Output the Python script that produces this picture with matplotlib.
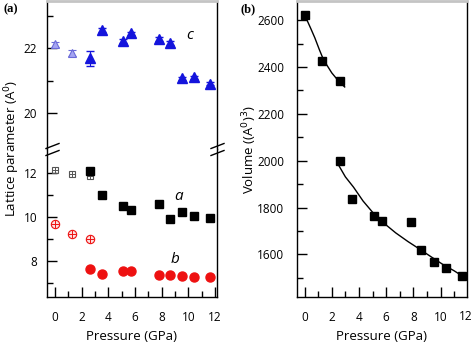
import matplotlib
matplotlib.use("Agg")
import matplotlib.pyplot as plt
from matplotlib.lines import Line2D
from matplotlib.ticker import MultipleLocator, FixedLocator

plt.rcParams['font.family'] = ['Open Sans', 'DejaVu Sans']
plt.rcParams['axes.linewidth'] = 1.0

# pressures (GPa)
p_low = [0.0, 1.3, 2.6]
p_high = [2.6, 3.5, 5.1, 5.7, 7.8, 8.6, 9.5, 10.4, 11.6]

# lattice parameter c, low pressure phase (open) and high pressure phase (filled)
c_low = [22.12, 21.85]
c_low_err = [0.08, 0.08]
c_high = [21.68, 22.55, 22.22, 22.45, 22.28, 22.15, 21.07, 21.1, 20.9]
c_high_err = [0.22, 0.06, 0.06, 0.06, 0.06, 0.06, 0.05, 0.05, 0.05]

# lattice parameter a
a_low = [12.13, 11.98, 11.88]
a_high = [12.08, 11.0, 10.52, 10.32, 10.6, 9.93, 10.22, 10.07, 9.98]

# lattice parameter b
b_low = [9.68, 9.23, 9.0]
b_high = [7.62, 7.42, 7.54, 7.54, 7.37, 7.38, 7.3, 7.27, 7.25]

# unit cell volume (A^3)
p_vol = [0.0, 1.3, 2.6, 2.6, 3.5, 5.1, 5.7, 7.8, 8.6, 9.5, 10.4, 11.6]
vol = [2621, 2426, 2340, 2000, 1837, 1763, 1742, 1737, 1618, 1569, 1541, 1508]

# equation of state fits
fit1_p = [0.1, 0.45, 0.75, 1.1, 1.4, 2.0, 2.5, 2.95]
fit1_v = [2610, 2565, 2525, 2472, 2430, 2375, 2340, 2315]
fit2_p = [2.55, 3.0, 3.6, 4.3, 5.0, 5.8, 6.7, 7.6, 8.5, 9.3, 10.2, 11.0, 11.65]
fit2_v = [1976, 1931, 1887, 1828, 1780, 1735, 1692, 1655, 1621, 1590, 1556, 1530, 1506]

W, H = 474, 345
fig = plt.figure(figsize=(W / 100, H / 100), dpi=100)


def box(x0, y0, x1, y1):
    # pixel box (top-left origin) -> figure fraction
    return [x0 / W, 1 - y1 / H, (x1 - x0) / W, (y1 - y0) / H]


def style(ax, ypad):
    ax.tick_params(which='both', direction='in', labelsize=8.5, right=False, top=False)
    ax.tick_params(which='major', length=7, width=1.0)
    ax.tick_params(which='minor', length=4, width=1.0)
    ax.tick_params(axis='x', which='major', pad=10)
    ax.tick_params(axis='y', which='major', pad=ypad)


blue = '#1414dc'
lblue = '#a4a4f2'
red = '#ee1111'

# ---- panel (a): broken y axis ----
y_break = 149
ax_top = fig.add_axes(box(47, 1, 217, y_break))
ax_bot = fig.add_axes(box(47, y_break, 217, 297))

for ax in (ax_top, ax_bot):
    ax.set_xlim(-0.6, 12.15)
    ax.xaxis.set_major_locator(MultipleLocator(2))
    ax.xaxis.set_minor_locator(MultipleLocator(1))
    style(ax, 7)

ax_top.spines['bottom'].set_visible(False)
ax_top.spines['top'].set_color('#c4c4c4')
ax_top.spines['top'].set_linewidth(2)
ax_top.tick_params(axis='x', which='both', bottom=False, labelbottom=False)
ax_bot.spines['top'].set_visible(False)

ax_top.set_ylim(18.89, 23.45)
ax_top.yaxis.set_major_locator(FixedLocator([20, 22]))
ax_top.yaxis.set_minor_locator(FixedLocator([21, 23]))

ax_bot.set_ylim(6.36, 13.1)
ax_bot.yaxis.set_major_locator(FixedLocator([8, 10, 12]))
ax_bot.yaxis.set_minor_locator(FixedLocator([7, 9, 11]))

# c
ax_top.errorbar(p_low[:2], c_low, yerr=c_low_err, fmt='^', ms=6,
                mfc=lblue, mec='#6a6ad8', mew=0.8, ecolor='#6a6ad8',
                elinewidth=0.8, capsize=3)
ax_top.errorbar(p_high, c_high, yerr=c_high_err, fmt='^', ms=6.5,
                color=blue, ecolor=blue, elinewidth=0.8, capsize=3)
ax_top.text(10.1, 22.4, 'c', fontsize=11, style='italic', ha='center', va='center')

# a
ax_bot.plot(p_low, a_low, 's', ms=5, mfc='none', mec='#555555', mew=0.8)
ax_bot.plot(p_low, a_low, '+', ms=5, color='#555555', mew=0.7)
ax_bot.plot(p_high, a_high, 's', ms=5.6, color='black')
ax_bot.text(9.3, 10.95, 'a', fontsize=11, style='italic', ha='center', va='center')

# b
ax_bot.plot(p_low, b_low, 'o', ms=6, mfc='#fbe0e0', mec=red, mew=0.8)
ax_bot.plot(p_low, b_low, '+', ms=6, color=red, mew=0.7)
ax_bot.plot(p_high, b_high, 'o', ms=6.5, color=red)
ax_bot.text(9.0, 8.05, 'b', fontsize=11, style='italic', ha='center', va='center')

fig.text(132 / W, 1 - 336 / H, 'Pressure (GPa)', fontsize=9.5, ha='center', va='center')
fig.text(12 / W, 1 - 148 / H, 'Lattice parameter (A$^0$)', fontsize=9.5,
         rotation=90, ha='center', va='center')

# break marks on both spines
for xs in (52, 217):
    for yb in (146, 153):
        fig.add_artist(Line2D([(xs - 6) / W, (xs + 7) / W],
                              [1 - (yb + 2.5) / H, 1 - (yb - 2.5) / H],
                              color='black', lw=1.0))

# ---- panel (b): volume ----
axb = fig.add_axes(box(297, 1, 467, 297))
axb.set_xlim(-0.56, 11.95)
axb.set_ylim(1418, 2682)
axb.xaxis.set_major_locator(MultipleLocator(2))
axb.xaxis.set_minor_locator(MultipleLocator(1))
axb.yaxis.set_major_locator(MultipleLocator(200))
axb.yaxis.set_minor_locator(MultipleLocator(100))
style(axb, 9)
axb.spines['top'].set_color('#c4c4c4')
axb.spines['top'].set_linewidth(2)

axb.plot(fit1_p, fit1_v, '-', color='black', lw=1.0)
axb.plot(fit2_p, fit2_v, '-', color='black', lw=1.0)
axb.plot(p_vol, vol, 's', ms=5.8, color='black')
fig.text(382 / W, 1 - 336 / H, 'Pressure (GPa)', fontsize=9.5, ha='center', va='center')
fig.text(250 / W, 1 - 150 / H, 'Volume ((A$^0$)$^3$)', fontsize=9.5,
         rotation=90, ha='center', va='center')
# the last tick label sits on the frame edge
fig.text(466 / W, 1 - 316 / H, '12', fontsize=8.5, ha='center', va='center')

fig.text(3 / W, 1 - 9 / H, '(a)', fontsize=9, fontweight='bold',
         family='Liberation Serif', ha='left', va='center')
fig.text(240 / W, 1 - 9 / H, '(b)', fontsize=9, fontweight='bold',
         family='Liberation Serif', ha='left', va='center')

fig.savefig('out.png', dpi=100)
